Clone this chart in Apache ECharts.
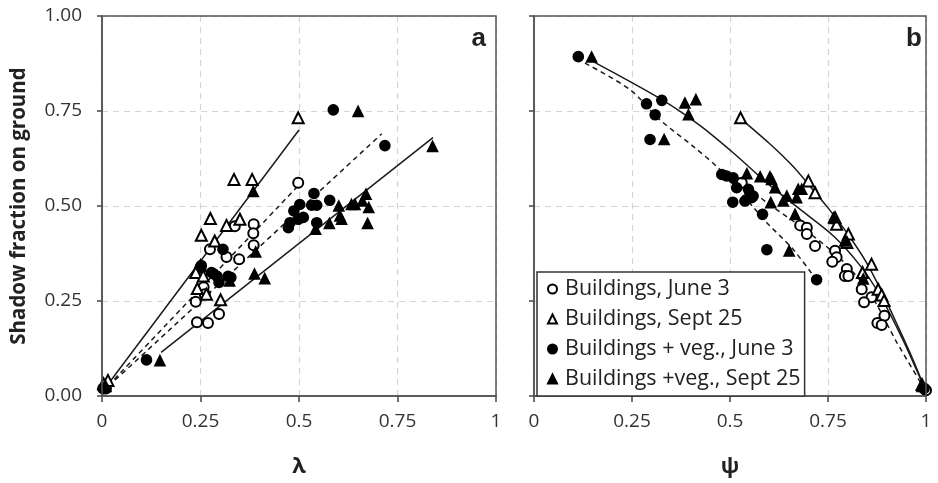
<!DOCTYPE html>
<html>
<head>
<meta charset="utf-8">
<script src="https://cdn.jsdelivr.net/npm/echarts@6/dist/echarts.min.js"></script>
<style>
html,body{margin:0;padding:0;background:#fff;}
#shadow{width:938px;height:483px;}
</style>
</head>
<body>
<div id="shadow"></div>
<script>
// tick labels
var xTickLabels = ['0', '0.25', '0.5', '0.75', '1'];
var yTickLabels = ['0.00', '0.25', '0.50', '0.75', '1.00'];
var seriesNames = ['Buildings, June 3', 'Buildings, Sept 25', 'Buildings + veg., June 3', 'Buildings +veg., Sept 25'];

// panel a : shadow fraction vs lambda
var aBldJune = [[0.003,0.02],[0.010,0.02],[0.498,0.561],[0.385,0.452],[0.384,0.428],[0.337,0.447],[0.385,0.397],
	[0.274,0.386],[0.316,0.366],[0.348,0.360],[0.250,0.338],[0.258,0.286],[0.238,0.248],[0.261,0.268],
	[0.297,0.216],[0.241,0.194],[0.269,0.192]];
var aBldSept = [[0.004,0.032],[0.015,0.041],[0.498,0.732],[0.335,0.570],[0.381,0.570],[0.275,0.467],[0.252,0.423],
	[0.316,0.449],[0.350,0.465],[0.286,0.408],[0.250,0.343],[0.238,0.325],[0.257,0.316],[0.242,0.283],
	[0.265,0.268],[0.301,0.253]];
var aVegJune = [[0.005,0.02],[0.113,0.095],[0.587,0.753],[0.718,0.659],[0.538,0.533],[0.578,0.515],[0.502,0.504],
	[0.532,0.502],[0.545,0.502],[0.487,0.487],[0.511,0.470],[0.545,0.456],[0.477,0.456],[0.473,0.443],[0.498,0.465],
	[0.307,0.386],[0.284,0.321],[0.292,0.315],[0.297,0.299],[0.320,0.315],[0.252,0.343],[0.278,0.325],[0.327,0.312]];
var aVegSept = [[0.010,0.025],[0.147,0.093],[0.650,0.749],[0.839,0.657],[0.670,0.531],[0.661,0.513],[0.633,0.504],
	[0.642,0.504],[0.677,0.496],[0.601,0.500],[0.604,0.474],[0.608,0.465],[0.674,0.454],[0.577,0.454],[0.542,0.439],
	[0.384,0.538],[0.390,0.379],[0.387,0.321],[0.413,0.309],[0.324,0.303]];
// fitted lines, panel a
var aFitBldSept = [[0,0.01],[0.50,0.70]];
var aFitBldJune = [[0,0.01],[0.495,0.55]];
var aFitVegJune = [[0,0.01],[0.71,0.69]];
var aFitVegSept = [[0.15,0.115],[0.84,0.68]];

// panel b : shadow fraction vs psi
var bBldJune = [[0.530,0.561],[0.679,0.449],[0.696,0.443],[0.696,0.426],[0.717,0.395],[0.768,0.382],[0.772,0.365],
	[0.761,0.353],[0.798,0.334],[0.793,0.316],[0.802,0.316],[0.836,0.281],[0.861,0.260],[0.842,0.247],[0.894,0.211],
	[0.876,0.192],[0.887,0.187],[0.995,0.02],[1.0,0.015]];
var bBldSept = [[0.527,0.732],[0.700,0.566],[0.717,0.535],[0.768,0.469],[0.772,0.452],[0.802,0.426],[0.798,0.404],
	[0.861,0.347],[0.838,0.325],[0.878,0.281],[0.887,0.266],[0.893,0.251],[0.99,0.03]];
var bVegJune = [[0.113,0.893],[0.287,0.769],[0.326,0.778],[0.309,0.740],[0.296,0.675],[0.479,0.583],[0.491,0.579],
	[0.508,0.574],[0.517,0.548],[0.547,0.544],[0.551,0.531],[0.555,0.522],[0.538,0.513],[0.507,0.510],[0.559,0.526],
	[0.583,0.478],[0.594,0.385],[0.721,0.306],[0.995,0.02]];
var bVegSept = [[0.147,0.892],[0.385,0.771],[0.413,0.780],[0.394,0.740],[0.332,0.675],[0.543,0.585],[0.577,0.577],
	[0.602,0.577],[0.606,0.570],[0.615,0.548],[0.645,0.526],[0.636,0.513],[0.604,0.509],[0.674,0.544],[0.683,0.544],
	[0.670,0.522],[0.666,0.478],[0.651,0.382],[0.764,0.469],[0.793,0.408],[0.840,0.308],[0.99,0.025]];
// fitted curves, panel b
var bFitBldSept = [[0.527,0.73],[0.60,0.665],[0.66,0.605],[0.704,0.552],[0.75,0.495],[0.80,0.427],[0.85,0.348],
	[0.89,0.268],[0.93,0.18],[0.965,0.10],[0.995,0.025]];
var bFitVegSept = [[0.151,0.880],[0.326,0.780],[0.423,0.712],[0.508,0.640],[0.594,0.561],[0.679,0.491],[0.764,0.421],
	[0.832,0.343],[0.883,0.264],[0.94,0.15],[0.993,0.028]];
var bFitBldJune = [[0.526,0.566],[0.594,0.509],[0.679,0.447],[0.764,0.378],[0.815,0.325],[0.866,0.255],[0.925,0.142],
	[0.993,0.024]];
var bFitVegJune = [[0.130,0.876],[0.245,0.806],[0.321,0.727],[0.406,0.657],[0.474,0.596],[0.560,0.496],[0.594,0.456],
	[0.661,0.386],[0.708,0.323]];

var font = "'Open Sans', sans-serif";
var ink = '#222';

function makeX(idx, name){
	return {
		type: 'value', gridIndex: idx, min: 0, max: 1, interval: 0.25,
		name: name, nameLocation: 'middle', nameGap: 60,
		nameTextStyle: {fontFamily: font, fontWeight: 'bold', fontSize: 22, color: ink},
		axisLine: {show: true, lineStyle: {color: '#444', width: 1.5}},
		axisTick: {show: true, length: 6, lineStyle: {color: '#444', width: 1.5}},
		axisLabel: {
			margin: 16, fontFamily: font, fontSize: 19, color: '#333',
			formatter: function(v){ return xTickLabels[Math.round(v / 0.25)]; }
		},
		splitLine: {show: true, lineStyle: {color: '#d4d4d4', type: [6, 5], width: 1.2}}
	};
}
function makeY(idx, withLabels){
	return {
		type: 'value', gridIndex: idx, min: 0, max: 1, interval: 0.25,
		name: withLabels ? 'Shadow fraction on ground' : '', nameLocation: 'middle', nameGap: 72,
		nameTextStyle: {fontFamily: font, fontWeight: 'bold', fontSize: 20.5, color: ink},
		axisLine: {show: true, lineStyle: {color: '#444', width: 1.5}},
		axisTick: {show: true, length: 5, lineStyle: {color: '#444', width: 1.5}},
		axisLabel: {
			show: withLabels, margin: 20, fontFamily: font, fontSize: 19, color: '#333',
			formatter: function(v){ return yTickLabels[Math.round(v / 0.25)]; }
		},
		splitLine: {show: true, lineStyle: {color: '#d4d4d4', type: [6, 5], width: 1.2}}
	};
}
function pts(name, idx, data, symbol, size){
	return {
		name: name, type: 'scatter', xAxisIndex: idx, yAxisIndex: idx, data: data,
		symbol: symbol, symbolSize: size,
		itemStyle: {color: '#000', borderColor: '#000', borderWidth: 1.6, opacity: 1},
		z: 3
	};
}
function fit(idx, data, dashed){
	return {
		name: 'fit', type: 'line', xAxisIndex: idx, yAxisIndex: idx, data: data,
		showSymbol: false, smooth: 0.3, silent: true,
		lineStyle: {color: '#1a1a1a', width: 1.5, type: dashed ? [5, 4] : 'solid'},
		z: 2
	};
}

var myChart = echarts.init(document.getElementById('shadow'));
option = {
	animation: false,
	backgroundColor: '#fff',
	grid: [
		{left: 102, top: 16, width: 394, height: 381, show: true, borderColor: '#555', borderWidth: 1.5, z: 5},
		{left: 534, top: 16, width: 392, height: 381, show: true, borderColor: '#555', borderWidth: 1.5, z: 5}
	],
	xAxis: [makeX(0, 'λ'), makeX(1, 'ψ')],
	yAxis: [makeY(0, true), makeY(1, false)],
	legend: {
		data: seriesNames,
		orient: 'vertical', left: 537, top: 272,
		itemWidth: 9, itemHeight: 9, itemGap: 8,
		padding: [6, 4, 6, 10],
		backgroundColor: '#fff', borderColor: '#333', borderWidth: 1.5, borderRadius: 0,
		textStyle: {fontFamily: font, fontSize: 21.5, color: ink, padding: [0, 0, 0, 3]},
		z: 10
	},
	graphic: [
		{type: 'text', right: 452, top: 26, z: 20, style: {text: 'a', font: "bold 26px 'Liberation Sans'", fill: ink}},
		{type: 'text', right: 16, top: 26, z: 20, style: {text: 'b', font: "bold 26px 'Liberation Sans'", fill: ink}}
	],
	series: [
		fit(0, aFitBldSept, false),
		fit(0, aFitBldJune, true),
		fit(0, aFitVegJune, true),
		fit(0, aFitVegSept, false),
		pts(seriesNames[0], 0, aBldJune, 'emptyCircle', 10),
		pts(seriesNames[1], 0, aBldSept, 'emptyTriangle', 11),
		pts(seriesNames[2], 0, aVegJune, 'circle', 10),
		pts(seriesNames[3], 0, aVegSept, 'triangle', 10),
		fit(1, bFitBldSept, false),
		fit(1, bFitVegSept, false),
		fit(1, bFitBldJune, true),
		fit(1, bFitVegJune, true),
		pts(seriesNames[0], 1, bBldJune, 'emptyCircle', 10),
		pts(seriesNames[1], 1, bBldSept, 'emptyTriangle', 11),
		pts(seriesNames[2], 1, bVegJune, 'circle', 10),
		pts(seriesNames[3], 1, bVegSept, 'triangle', 10)
	]
};
myChart.setOption(option);
</script>
</body>
</html>
